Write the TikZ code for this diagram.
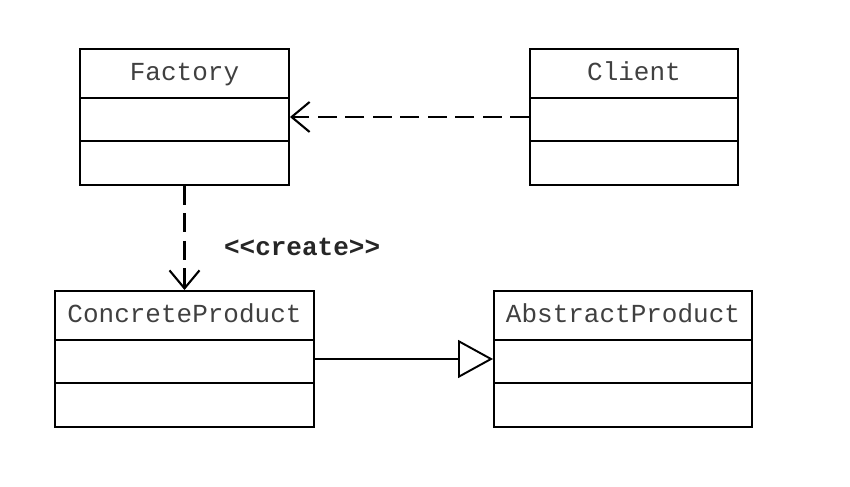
\documentclass[tikz,border=0pt]{standalone}
\usepackage{fontspec}
\newfontfamily\umlfont{Liberation Mono}
\usetikzlibrary{arrows.meta,positioning}

\tikzset{
  classbox/.style={draw, line width=1.1pt, minimum width=#1, minimum height=2.72cm, inner sep=0pt},
  classname/.style={font=\umlfont\fontsize{14.8}{17}\selectfont, text=black!75, anchor=base, inner sep=0pt},
  dep/.style={line width=1.2pt, dash pattern=on 0.38cm off 0.17cm, -{Straight Barb[length=3.6mm,width=6mm]}},
  inherit/.style={line width=1.1pt, -{Triangle[open,length=7mm,width=7.6mm]}}
}

\begin{document}
\begin{tikzpicture}
  \useasboundingbox (0,0) rectangle (17,9.74);

  \node[classbox=4.18cm] (factory) at (3.69,7.4) {};
  \node[classbox=4.16cm] (client) at (12.68,7.4) {};
  \node[classbox=5.18cm] (concrete) at (3.69,2.56) {};
  \node[classbox=5.16cm] (abstract) at (12.46,2.56) {};

  % class names
  \node[classname] (factoryname) at ([yshift=-0.64cm]factory.north) {Factory};
  \node[classname] (clientname) at ([yshift=-0.64cm]client.north) {Client};
  \node[classname] (concretename) at ([yshift=-0.64cm]concrete.north) {ConcreteProduct};
  \node[classname] (abstractname) at ([yshift=-0.64cm]abstract.north) {AbstractProduct};

  % compartments
  \foreach \c in {factory,client,concrete,abstract} {
    \draw[line width=1.1pt] ([yshift=-1cm]\c.north west) -- ([yshift=-1cm]\c.north east);
    \draw[line width=1.1pt] ([yshift=-1.86cm]\c.north west) -- ([yshift=-1.86cm]\c.north east);
  }

  \draw[dep] (client.west) -- (factory.east);
  \draw[dep] (factory.south) -- node[pos=0.585, right=0.77cm, inner sep=0pt, font=\umlfont\bfseries\fontsize{14.8}{17}\selectfont, text=black!85] (createlbl) {<<create>>} (concrete.north);
  \draw[inherit] (concrete.east) -- (abstract.west);
\end{tikzpicture}
\end{document}
